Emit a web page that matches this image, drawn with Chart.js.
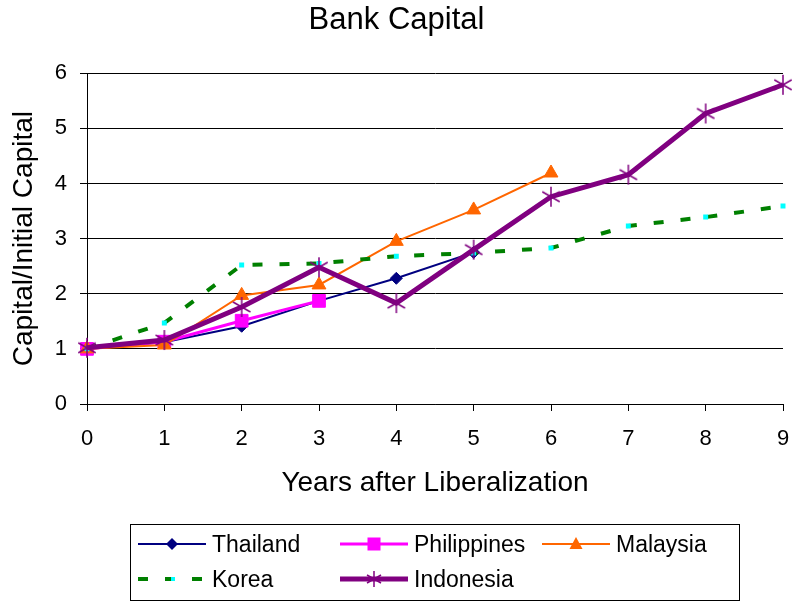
<!DOCTYPE html>
<html>
<head>
<meta charset="utf-8">
<script src="https://cdn.jsdelivr.net/npm/chart.js@4"></script>
<style>
  body { margin: 0; background: #fff; }
  #wrap { position: relative; width: 793px; height: 602px; }
  #legend {
    position: absolute; left: 130px; top: 524px; width: 610px; height: 77px;
    border: 1px solid #000; box-sizing: border-box;
    font-family: "Liberation Sans", Arial, sans-serif; font-size: 23px; color: #000;
  }
  .item { position: absolute; height: 28px; line-height: 28px; white-space: nowrap; }
  .item svg { position: absolute; left: 0; top: 0; }
  .item span { position: absolute; left: 74px; top: 0; }
</style>
</head>
<body>
<div id="wrap">
  <canvas id="lineChart" width="793" height="602"></canvas>
  <div id="legend"></div>
</div>
<script>
// years after liberalization
const years = ['0', '1', '2', '3', '4', '5', '6', '7', '8', '9'];
const yTicks = [0, 1, 2, 3, 4, 5, 6];

// capital / initial capital
const thailand    = [1.00, 1.12, 1.41, 1.87, 2.28, 2.75];
const philippines = [1.00, 1.13, 1.51, 1.87];
const malaysia    = [1.00, 1.07, 1.97, 2.16, 2.95, 3.52, 4.19];
const korea       = [1.00, 1.47, 2.52, 2.55, 2.68, 2.74, 2.83, 3.23, 3.39, 3.59];
const indonesia   = [1.02, 1.16, 1.76, 2.48, 1.83, 2.80, 3.76, 4.16, 5.27, 5.79];

const FONT = '"Liberation Sans", Arial, sans-serif';

// asterisk marker (X with a vertical bar) like the spreadsheet one
function makeStar(color, size) {
    const c = document.createElement('canvas');
    c.width = size;
    c.height = size;
    const g = c.getContext('2d');
    const m = size / 2;
    const r = size / 2 - 1;
    g.strokeStyle = color;
    g.lineWidth = 1.5;
    g.beginPath();
    g.moveTo(m, m - r); g.lineTo(m, m + r);
    g.moveTo(m - r * 0.87, m - r * 0.5); g.lineTo(m + r * 0.87, m + r * 0.5);
    g.moveTo(m - r * 0.87, m + r * 0.5); g.lineTo(m + r * 0.87, m - r * 0.5);
    g.stroke();
    return c;
}

const ctx = document.getElementById('lineChart').getContext('2d');
const myChart = new Chart(ctx, {
    type: 'line',
    data: {
        labels: years,
        datasets: [{
            label: 'Thailand',
            data: thailand,
            borderColor: '#000080',
            backgroundColor: '#000080',
            borderWidth: 2,
            pointStyle: 'rectRot',
            pointRadius: 6,
            pointBorderWidth: 1,
            order: 5
        }, {
            label: 'Philippines',
            data: philippines,
            borderColor: '#ff00ff',
            backgroundColor: '#ff00ff',
            borderWidth: 3,
            pointStyle: 'rect',
            pointRadius: 9,
            pointBorderWidth: 1,
            order: 4
        }, {
            label: 'Malaysia',
            data: malaysia,
            borderColor: '#ff6600',
            backgroundColor: '#ff6600',
            borderWidth: 2,
            pointStyle: 'triangle',
            pointRadius: 8,
            pointBorderWidth: 1,
            order: 3
        }, {
            label: 'Korea',
            data: korea,
            borderColor: '#008000',
            backgroundColor: '#00ffff',
            borderWidth: 4,
            borderDash: [10, 17],
            pointStyle: 'rect',
            pointRadius: 3.5,
            pointBorderWidth: 0,
            order: 2
        }, {
            label: 'Indonesia',
            data: indonesia,
            borderColor: '#800080',
            backgroundColor: '#800080',
            borderWidth: 5,
            pointStyle: makeStar('#800080', 22),
            order: 1
        }]
    },
    options: {
        responsive: false,
        animation: false,
        layout: {
            padding: { left: 10, right: 10, top: 0, bottom: 98 }
        },
        plugins: {
            legend: { display: false },
            tooltip: { enabled: false },
            title: {
                display: true,
                text: 'Bank Capital',
                color: '#000',
                font: { family: FONT, size: 31, weight: 'normal' },
                padding: { top: 2, bottom: 34 }
            }
        },
        scales: {
            x: {
                afterFit: function(scale) {
                    scale.height = 100;
                    scale.paddingLeft = 0;
                    scale.paddingRight = 0;
                },
                grid: {
                    drawOnChartArea: false,
                    drawTicks: true,
                    tickLength: 7,
                    color: '#000'
                },
                border: { color: '#000', width: 1 },
                ticks: {
                    color: '#000',
                    padding: 15,
                    maxRotation: 0,
                    font: { family: FONT, size: 22 }
                },
                title: {
                    display: true,
                    text: 'Years after Liberalization',
                    color: '#000',
                    font: { family: FONT, size: 28 },
                    padding: { top: 0, bottom: 4 }
                }
            },
            y: {
                min: 0,
                max: 6,
                afterFit: function(scale) { scale.width = 77; },
                afterBuildTicks: function(scale) {
                    scale.ticks = yTicks.map(v => ({ value: v }));
                },
                grid: {
                    drawTicks: true,
                    tickLength: 7,
                    color: '#000'
                },
                border: { color: '#000', width: 1 },
                ticks: {
                    color: '#000',
                    padding: 13,
                    font: { family: FONT, size: 22 }
                },
                title: {
                    display: true,
                    text: 'Capital/Initial Capital',
                    color: '#000',
                    font: { family: FONT, size: 28 },
                    padding: { top: -3, bottom: 0 }
                }
            }
        }
    }
});

// legend laid out in fixed columns like the original
const legendItems = [
    { name: 'Thailand', col: 0, row: 0,
      icon: '<line x1="0" y1="14" x2="68" y2="14" stroke="#000080" stroke-width="2"/>' +
            '<polygon points="34,8 40,14 34,20 28,14" fill="#000080"/>' },
    { name: 'Philippines', col: 1, row: 0,
      icon: '<line x1="0" y1="14" x2="68" y2="14" stroke="#ff00ff" stroke-width="3"/>' +
            '<rect x="27.5" y="7.5" width="13" height="13" fill="#ff00ff"/>' },
    { name: 'Malaysia', col: 2, row: 0,
      icon: '<line x1="0" y1="14" x2="68" y2="14" stroke="#ff6600" stroke-width="2"/>' +
            '<polygon points="34,7 40.5,19 27.5,19" fill="#ff6600"/>' },
    { name: 'Korea', col: 0, row: 1,
      icon: '<line x1="0" y1="14" x2="68" y2="14" stroke="#008000" stroke-width="4" stroke-dasharray="10 17"/>' +
            '<rect x="33" y="12" width="4" height="4" fill="#00ffff"/>' },
    { name: 'Indonesia', col: 1, row: 1,
      icon: '<line x1="0" y1="14" x2="68" y2="14" stroke="#800080" stroke-width="5"/>' +
            '<g stroke="#800080" stroke-width="1.5"><line x1="34" y1="6" x2="34" y2="22"/>' +
            '<line x1="27" y1="10" x2="41" y2="18"/><line x1="27" y1="18" x2="41" y2="10"/></g>' }
];
const colX = [7, 209, 411];
const rowY = [5, 40];
const legendEl = document.getElementById('legend');
legendItems.forEach(function(it) {
    const d = document.createElement('div');
    d.className = 'item';
    d.style.left = colX[it.col] + 'px';
    d.style.top = rowY[it.row] + 'px';
    d.innerHTML = '<svg width="70" height="28">' + it.icon + '</svg><span>' + it.name + '</span>';
    legendEl.appendChild(d);
});
</script>
</body>
</html>
